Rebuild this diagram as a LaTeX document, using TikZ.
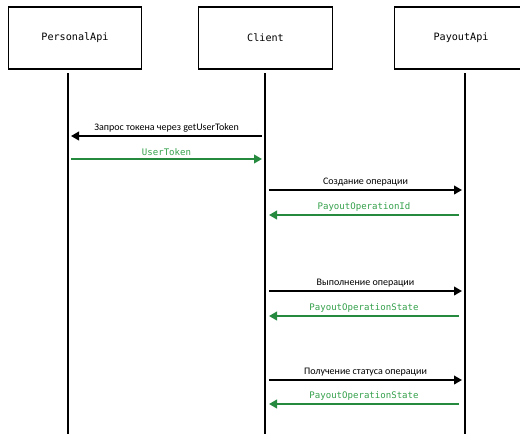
\documentclass[tikz,border=0pt]{standalone}
\usepackage{fontspec}
\setmainfont{Carlito}
\newfontfamily\monofont{DejaVu Sans Mono}
\usetikzlibrary{arrows.meta}
\definecolor{respgreen}{RGB}{38,138,62}
\definecolor{resptext}{RGB}{52,160,74}

\tikzset{
  actor/.style={draw,line width=0.9pt,minimum width=100pt,minimum height=46.5pt,
    font=\monofont\fontsize{7.6}{9}\selectfont},
  lifeline/.style={line width=1.4pt},
  reqarrow/.style={line width=1.4pt,-{Triangle[length=6pt,width=6.5pt]}},
  resparrow/.style={line width=1.4pt,color=respgreen,-{Triangle[length=6pt,width=6.5pt]}},
  reqlabel/.style={above,inner sep=2pt,font=\fontsize{7.5}{9}\selectfont},
  resplabel/.style={above,inner sep=2pt,text=resptext,font=\monofont\fontsize{6.8}{8}\selectfont}
}

\begin{document}
\begin{tikzpicture}[x=0.75pt,y=0.75pt,yscale=-1,xscale=1]
  \useasboundingbox (0,0) rectangle (520,433);
  \clip (0,0) rectangle (520,433);

  % Participants
  \node[actor] (personal) at (75,38) {PersonalApi};
  \node[actor] (client) at (265.5,38) {Client};
  \node[actor] (payout) at (461,38) {PayoutApi};

  % Lifelines
  \coordinate (pTop) at (68,73);
  \coordinate (pBot) at (68,440);
  \coordinate (cTop) at (265,73);
  \coordinate (cBot) at (265,440);
  \coordinate (yTop) at (465,73);
  \coordinate (yBot) at (465,440);
  \draw[lifeline] (pTop) -- (pBot);
  \draw[lifeline] (cTop) -- (cBot);
  \draw[lifeline] (yTop) -- (yBot);

  % Token
  \coordinate (c1) at (262,136);
  \coordinate (p1) at (71,136);
  \draw[reqarrow] (c1) -- node[reqlabel] {Запрос токена через getUserToken} (p1);
  \coordinate (p2) at (71,159);
  \coordinate (c2) at (262,159);
  \draw[resparrow] (p2) -- node[resplabel] {UserToken} (c2);

  % Create operation
  \coordinate (c3) at (269,190);
  \coordinate (y3) at (462,190);
  \draw[reqarrow] (c3) -- node[reqlabel] {Создание операции} (y3);
  \coordinate (y4) at (459,215);
  \coordinate (c4) at (269,215);
  \draw[resparrow] (y4) -- node[resplabel] {PayoutOperationId} (c4);

  % Execute operation
  \coordinate (c5) at (269,291);
  \coordinate (y5) at (462,291);
  \draw[reqarrow] (c5) -- node[reqlabel] {Выполнение операции} (y5);
  \coordinate (y6) at (459,316);
  \coordinate (c6) at (269,316);
  \draw[resparrow] (y6) -- node[resplabel] {PayoutOperationState} (c6);

  % Operation status
  \coordinate (c7) at (269,380);
  \coordinate (y7) at (462,380);
  \draw[reqarrow] (c7) -- node[reqlabel] {Получение статуса операции} (y7);
  \coordinate (y8) at (459,404);
  \coordinate (c8) at (269,404);
  \draw[resparrow] (y8) -- node[resplabel] {PayoutOperationState} (c8);
\end{tikzpicture}
\end{document}
